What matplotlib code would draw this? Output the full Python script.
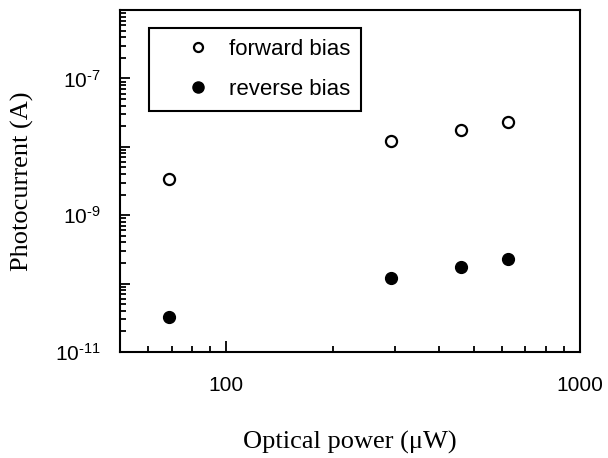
import matplotlib
matplotlib.use("Agg")
import matplotlib.pyplot as plt
from matplotlib.ticker import LogLocator, FixedLocator, FixedFormatter, NullFormatter
from matplotlib.lines import Line2D
from matplotlib.legend_handler import HandlerLine2D

plt.rcParams['font.family'] = ['Liberation Sans', 'DejaVu Sans']
plt.rcParams['mathtext.fontset'] = 'custom'
plt.rcParams['mathtext.rm'] = 'Liberation Sans'
plt.rcParams['mathtext.default'] = 'regular'

# Data
optical_power_uW = [69, 292, 462, 625]
forward_bias_A = [3.4e-9, 1.23e-8, 1.76e-8, 2.28e-8]
reverse_bias_A = [3.25e-11, 1.19e-10, 1.77e-10, 2.26e-10]

x_major_ticks = [100, 1000]
x_tick_labels = ['100', '1000']
y_major_exps = [-11, -10, -9, -8, -7, -6]
y_tick_labels = ['$10^{\u2010 11}$', '', '$10^{\u2010 9}$', '', '$10^{\u2010 7}$', '']

fig = plt.figure(figsize=(6.08, 4.58), dpi=100)
ax = fig.add_axes([120/608, 1 - 352/458, 460/608, 342/458])

ax.set_xscale('log')
ax.set_yscale('log')
ax.set_xlim(50, 1000)
ax.set_ylim(1e-11, 1e-6)

ax.plot(optical_power_uW, forward_bias_A, linestyle='none', marker='o',
        markersize=8, markerfacecolor='white', markeredgecolor='black',
        markeredgewidth=1.6)
ax.plot(optical_power_uW, reverse_bias_A, linestyle='none', marker='o',
        markersize=8.5, markerfacecolor='black', markeredgecolor='black')

for s in ax.spines.values():
    s.set_linewidth(1.5)

# x ticks
ax.xaxis.set_major_locator(FixedLocator(x_major_ticks))
ax.xaxis.set_major_formatter(FixedFormatter(x_tick_labels))
ax.xaxis.set_minor_locator(LogLocator(base=10, subs=range(2, 10), numticks=20))
ax.xaxis.set_minor_formatter(NullFormatter())

# y ticks: major at every decade, labels on odd exponents
ax.yaxis.set_minor_locator(LogLocator(base=10, subs=range(2, 10), numticks=20))
ax.yaxis.set_minor_formatter(NullFormatter())
ax.set_yticks([10.0 ** e for e in y_major_exps])
ax.set_yticklabels(y_tick_labels)

ax.tick_params(axis='both', which='both', direction='in', top=False, right=False,
               width=1.3, labelsize=15)
ax.tick_params(axis='x', which='major', length=8, pad=17)
ax.tick_params(axis='x', which='minor', length=4)
ax.tick_params(axis='y', which='major', length=7, pad=14)
ax.tick_params(axis='y', which='minor', length=4)

serif = ['Liberation Serif', 'DejaVu Serif']
ax.set_xlabel('Optical power (μW)', fontsize=19, family=serif)
ax.xaxis.set_label_coords(0.5, (352 - 442) / 342)
ax.xaxis.label.set_va('center')
ax.set_ylabel('Photocurrent (A)', fontsize=19, family=serif)
ax.yaxis.set_label_coords((22 - 120) / 460, 0.5)
ax.yaxis.label.set_va('center')

handles = [
    Line2D([], [], linestyle='none', marker='o', markersize=6.5, markerfacecolor='white',
           markeredgecolor='black', markeredgewidth=1.6),
    Line2D([], [], linestyle='none', marker='o', markersize=8, markerfacecolor='black',
           markeredgecolor='black'),
]
leg = ax.legend(handles, ['forward bias', 'reverse bias'], loc='upper left',
                bbox_to_anchor=((149 - 120) / 460, (352 - 28) / 342),
                borderaxespad=0, fancybox=False, framealpha=1, edgecolor='black',
                fontsize=16, handlelength=2.7, handletextpad=0.4, borderpad=0.48,
                labelspacing=0.87,
                handler_map={Line2D: HandlerLine2D(numpoints=1, xpad=0.72)})
leg.get_frame().set_linewidth(1.5)

fig.savefig('out.png', dpi=100)
